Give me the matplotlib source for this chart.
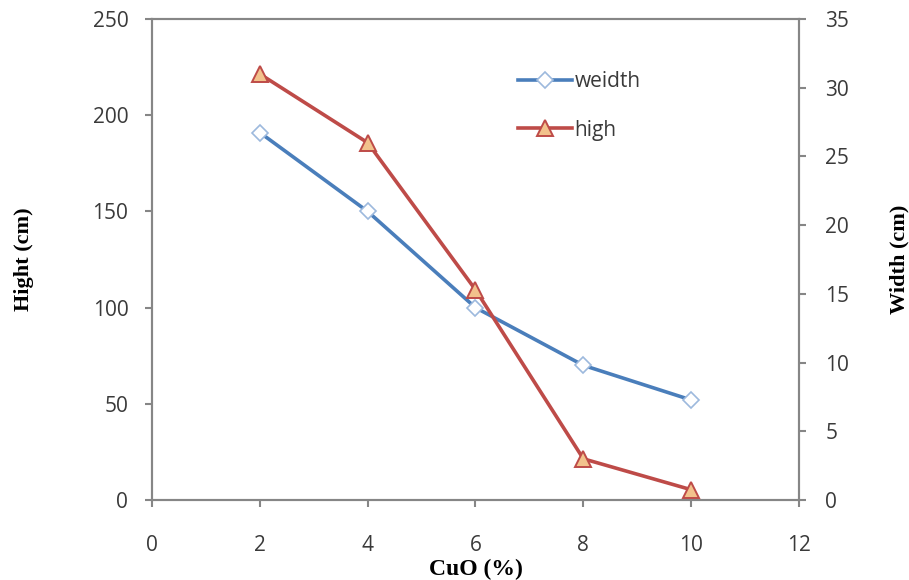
import numpy as np
from matplotlib import pyplot as plt

cuo = [2, 4, 6, 8, 10]
weidth = [191, 150, 100, 70, 52]        # read on left axis
high = [31.0, 26.0, 15.3, 3.0, 0.75]    # read on right axis

fig = plt.figure(figsize=(9.09, 5.8), dpi=100)
ax = fig.add_axes([0.1672, 0.1379, 0.7118, 0.8293])
ax2 = ax.twinx()

grey = '#868686'
tick_font = 'Open Sans'

l1, = ax.plot(cuo, weidth, color='#4A7EBB', lw=2.6, marker='D', ms=8.5,
              mfc='white', mec='#9DB9DD', mew=1.2, label='weidth', zorder=3)
l2, = ax2.plot(cuo, high, color='#BE4B48', lw=2.6, marker='^', ms=12,
               mfc='#F2C28C', mec='#BE4B48', mew=1.4, label='high', zorder=3)

ax.set_xlim(0, 12)
ax.set_ylim(0, 250)
ax2.set_ylim(0, 35)
ax.set_xticks(np.arange(0, 13, 2))
ax.set_yticks(np.arange(0, 251, 50))
ax2.set_yticks(np.arange(0, 36, 5))

for a in (ax, ax2):
    for s in a.spines.values():
        s.set_color(grey)
        s.set_linewidth(1.5)
    a.tick_params(colors=grey, width=1.5, length=5, labelsize=15, labelcolor='#3a3a3a')
    for lab in a.get_xticklabels() + a.get_yticklabels():
        lab.set_family(tick_font)
ax.tick_params(axis='y', pad=12)
ax.tick_params(axis='x', pad=20)
ax2.tick_params(axis='y', pad=14)

ax.set_xlabel('CuO (%)', family='Liberation Serif', fontweight='bold', fontsize=17, labelpad=2)
ax.set_ylabel('Hight (cm)', family='Liberation Serif', fontweight='bold', fontsize=16, labelpad=42)
fig.text(899 / 909, 0.553, 'Width (cm)', family='Liberation Serif', fontweight='bold',
         fontsize=16, rotation=90, ha='center', va='center')

leg = ax.legend([l1, l2], ['weidth', 'high'], loc='upper left', bbox_to_anchor=(0.537, 0.93),
                frameon=False, prop={'family': tick_font, 'size': 15},
                handlelength=2.6, labelspacing=1.3, handletextpad=0.1)
for t in leg.get_texts():
    t.set_color('#3a3a3a')

fig.savefig('out.png', dpi=100)
